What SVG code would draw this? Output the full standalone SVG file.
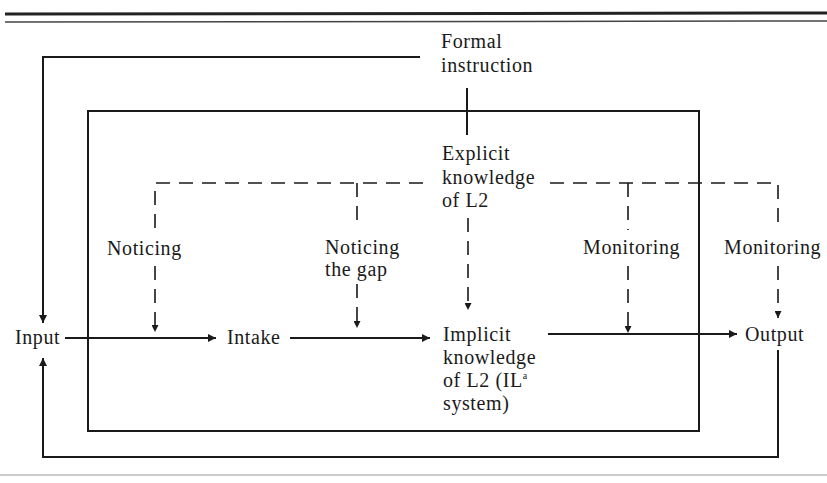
<svg xmlns="http://www.w3.org/2000/svg" width="827" height="483" viewBox="0 0 827 483">
<style>
.t{font-family:"Liberation Serif","DejaVu Serif",serif;font-size:20px;fill:#1a1a1a;letter-spacing:0.6px}
.s{stroke:#1a1a1a;stroke-width:2;fill:none}
.d{stroke:#1a1a1a;stroke-width:1.6;fill:none;stroke-dasharray:14 9}
</style>
<defs>
<marker id="a" viewBox="0 0 10 10" refX="10" refY="5" markerWidth="10" markerHeight="8" markerUnits="userSpaceOnUse" orient="auto"><path d="M0,0 L10,5 L0,10 z" fill="#1a1a1a"/></marker>
<marker id="b" viewBox="0 0 10 10" refX="10" refY="5" markerWidth="8" markerHeight="7" markerUnits="userSpaceOnUse" orient="auto"><path d="M0,0 L10,5 L0,10 z" fill="#1a1a1a"/></marker>
</defs>
<rect width="827" height="483" fill="#fff"/>
<g id="rules">
<line x1="5" y1="14" x2="827" y2="13" stroke="#222" stroke-width="3"/>
<line x1="5" y1="22" x2="827" y2="21" stroke="#444" stroke-width="1.5"/>
<line x1="0" y1="475" x2="827" y2="475" stroke="#bbb" stroke-width="1.5"/>
</g>
<g id="connectors">
<rect x="88" y="111" width="611" height="320" class="s"/>
<path d="M420,57 L43,57 L43,323" class="s" marker-end="url(#a)"/>
<path d="M778,350 L778,457 L43,457 L43,358" class="s" marker-end="url(#a)"/>
<line x1="467" y1="88" x2="467" y2="135" class="s" stroke-width="1.5"/>
<line x1="65" y1="338" x2="216" y2="338" class="s" stroke-width="1.5" marker-end="url(#a)"/>
<line x1="290" y1="338" x2="430" y2="338" class="s" stroke-width="1.5" marker-end="url(#a)"/>
<line x1="548" y1="334" x2="737" y2="334" class="s" marker-end="url(#a)"/>
<path d="M423,183 L155,183 L155,230" class="d"/>
<line x1="155" y1="266" x2="155" y2="332" class="d" marker-end="url(#b)"/>
<line x1="357" y1="183" x2="357" y2="228" class="d"/>
<line x1="357" y1="284" x2="357" y2="328" class="d" marker-end="url(#b)"/>
<line x1="468" y1="218" x2="468" y2="310" class="d" marker-end="url(#b)"/>
<path d="M550,183 L778,183 L778,230" class="d"/>
<line x1="778" y1="266" x2="778" y2="318" class="d" marker-end="url(#b)"/>
<line x1="628" y1="183" x2="628" y2="230" class="d"/>
<line x1="628" y1="266" x2="628" y2="333" class="d" marker-end="url(#b)"/>
</g>
<g id="formal"><text class="t" x="441" y="48">Formal</text><text class="t" x="441" y="72">instruction</text></g>
<g id="explicit"><text class="t" x="442" y="160">Explicit</text><text class="t" x="442" y="184">knowledge</text><text class="t" x="442" y="207">of L2</text></g>
<g id="noticing"><text class="t" x="107" y="255">Noticing</text></g>
<g id="noticing-gap"><text class="t" x="325" y="254">Noticing</text><text class="t" x="325" y="276">the gap</text></g>
<g id="monitoring1"><text class="t" x="583" y="254">Monitoring</text></g>
<g id="monitoring2"><text class="t" x="724" y="254">Monitoring</text></g>
<g id="input"><text class="t" x="15" y="344">Input</text></g>
<g id="intake"><text class="t" x="227" y="344">Intake</text></g>
<g id="implicit"><text class="t" x="443" y="341">Implicit</text><text class="t" x="443" y="364">knowledge</text><text class="t" x="443" y="387">of L2 (IL<tspan font-size="10" dy="-8">a</tspan></text><text class="t" x="443" y="410">system)</text></g>
<g id="output"><text class="t" x="745" y="341">Output</text></g>
</svg>
